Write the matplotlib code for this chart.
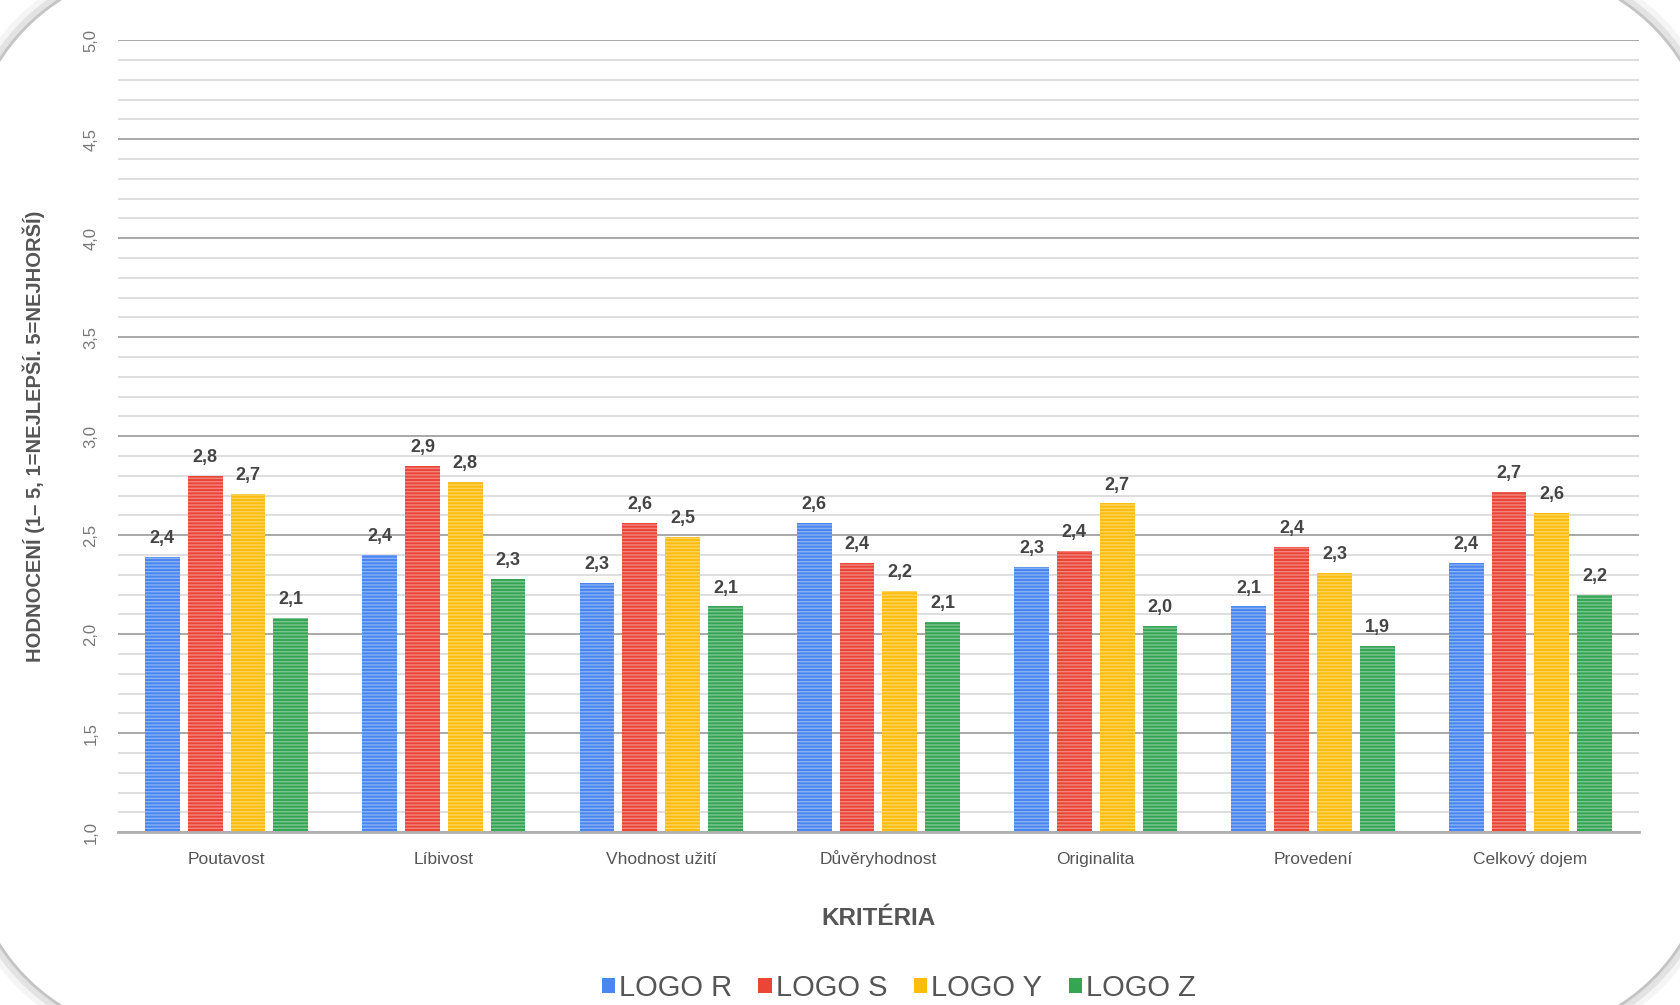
import numpy as np
import matplotlib
matplotlib.use("Agg")
import matplotlib.pyplot as plt
from matplotlib.lines import Line2D
from matplotlib.ticker import MultipleLocator
from matplotlib.transforms import IdentityTransform

plt.rcParams['font.family'] = ['Liberation Sans', 'DejaVu Sans']

# data
kriteria = ['Poutavost', 'Líbivost', 'Vhodnost užití', 'Důvěryhodnost',
            'Originalita', 'Provedení', 'Celkový dojem']
serie = ['LOGO R', 'LOGO S', 'LOGO Y', 'LOGO Z']
logo_r = [2.39, 2.40, 2.26, 2.56, 2.34, 2.14, 2.36]
logo_s = [2.80, 2.85, 2.56, 2.36, 2.42, 2.44, 2.72]
logo_y = [2.71, 2.77, 2.49, 2.22, 2.66, 2.31, 2.61]
logo_z = [2.08, 2.28, 2.14, 2.06, 2.04, 1.94, 2.20]
barvy = ['#4A86F0', '#EA4537', '#FBBC0B', '#35A554']

hodnoty = [logo_r, logo_s, logo_y, logo_z]

W, H = 1680, 1005
fig = plt.figure(figsize=(W / 100, H / 100), dpi=100)
ax = fig.add_axes([0.0702, 0.172, 0.9054, 0.788])

x = np.arange(len(kriteria))
krok = 0.197
sirka = 0.16
for i, (vals, barva, nazev) in enumerate(zip(hodnoty, barvy, serie)):
    pozice = x + (i - 1.5) * krok
    ax.bar(pozice, np.array(vals) - 1.0, bottom=1.0, width=sirka,
           color=barva, label=nazev, zorder=3)
    # svetle vodorovne prouzky jako v originalu
    ax.bar(pozice, np.array(vals) - 1.0, bottom=1.0, width=sirka,
           color='none', edgecolor=(1, 1, 1, 0.35), linewidth=0,
           hatch='-----', zorder=4)
    for px, v in zip(pozice, vals):
        ax.text(px, v + 0.05, f'{v:.1f}'.replace('.', ','), ha='center',
                va='bottom', fontsize=13, fontweight='bold', color='#444444',
                zorder=5)

ax.set_xlim(-0.5, len(kriteria) - 0.5)
ax.set_ylim(1.0, 5.0)
ax.yaxis.set_major_locator(MultipleLocator(0.5))
ax.yaxis.set_minor_locator(MultipleLocator(0.1))
ax.grid(which='major', axis='y', color='#a8a8a8', linewidth=1.4, zorder=0)
ax.grid(which='minor', axis='y', color='#d8d8d8', linewidth=1.2, zorder=0)
ax.set_axisbelow(True)

for s in ['top', 'right', 'left']:
    ax.spines[s].set_visible(False)
ax.spines['bottom'].set_color('#b0b0b0')
ax.spines['bottom'].set_linewidth(2)
ax.spines['bottom'].set_zorder(6)

ax.set_xticks(x)
ax.set_xticklabels(kriteria, fontsize=12.5, color='#555555')
for lbl in ax.get_xticklabels():
    lbl.set_va('baseline')
ax.tick_params(axis='x', length=0, pad=23)
ax.tick_params(axis='y', which='both', length=0, pad=14)
ax.set_yticks(np.arange(1.0, 5.01, 0.5))
ax.set_yticklabels([f'{t:.1f}'.replace('.', ',') for t in np.arange(1.0, 5.01, 0.5)],
                   rotation=90, va='center', fontsize=12, color='#777777')

ax.set_ylabel('HODNOCENÍ (1– 5, 1=NEJLEPŠÍ. 5=NEJHORŠÍ)', fontsize=14.5,
              fontweight='bold', color='#555555')
ax.yaxis.set_label_coords(-0.048, 0.5)
ax.set_xlabel('KRITÉRIA', fontsize=17.5, fontweight='bold', color='#555555')
ax.xaxis.set_label_coords(0.5, -0.095)

leg = fig.legend(loc='center', bbox_to_anchor=(0.535, 0.017), ncol=4,
                 frameon=False, fontsize=21, handlelength=0.45,
                 handleheight=0.45, handletextpad=0.15, columnspacing=0.9)
for t in leg.get_texts():
    t.set_color('#555555')

# zaoblene rohy karty, kresleno v pixelech
def rohy(r, a):
    xs, ys = [], []
    stredy = [(W + a - r, H + a - r, 0), (-a + r, H + a - r, 90),
              (-a + r, -a + r, 180), (W + a - r, -a + r, 270)]
    for cx, cy, uhel in stredy:
        t = np.radians(np.linspace(uhel, uhel + 90, 60))
        xs.extend(cx + r * np.cos(t))
        ys.extend(cy + r * np.sin(t))
    xs.append(xs[0])
    ys.append(ys[0])
    return xs, ys

for posun, barva_st, lw in [(6, (0, 0, 0, 0.04), 10), (3, (0, 0, 0, 0.07), 6),
                            (0, '#c4c4c4', 2)]:
    rx, ry = rohy(200 + posun, 32 + posun)
    fig.add_artist(Line2D(rx, ry, color=barva_st, linewidth=lw,
                          transform=IdentityTransform(), zorder=10))

fig.savefig('out.png', dpi=100)
